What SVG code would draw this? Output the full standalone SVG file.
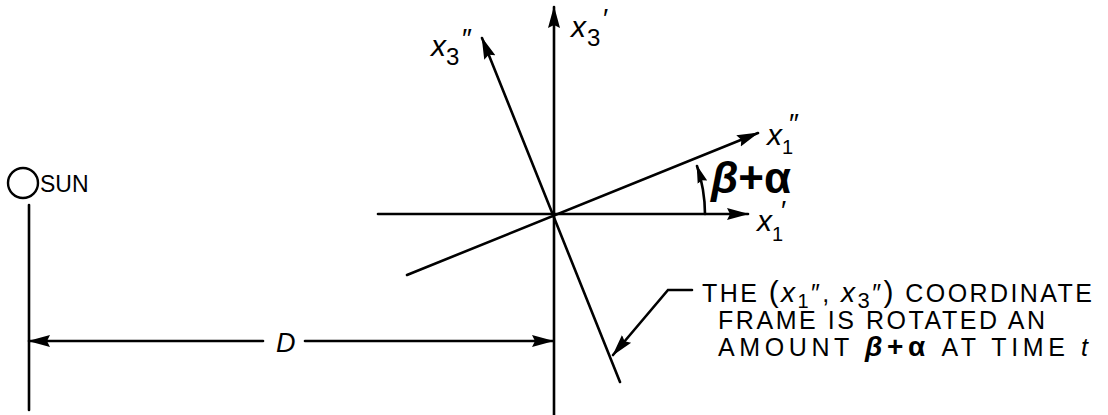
<svg xmlns="http://www.w3.org/2000/svg" width="1108" height="415" viewBox="0 0 1108 415">
<style>
.ln{stroke:#000;stroke-width:2.6;fill:none;stroke-linecap:round}
.ar{marker-end:url(#ah)}
.t{font-family:"Liberation Sans",Arial,sans-serif;fill:#000}
.v{font-family:"Liberation Sans",Arial,sans-serif;font-style:italic;fill:#000}
.note{font-family:"Liberation Sans",Arial,sans-serif;font-size:25px;fill:#000}
</style>
<defs>
<marker id="ah" markerUnits="userSpaceOnUse" markerWidth="22" markerHeight="14" viewBox="0 0 22 14" refX="21" refY="7" orient="auto">
<path d="M0,1 L22,7 L0,13 L3,7 Z" fill="#000"/>
</marker>
<marker id="ahs" markerUnits="userSpaceOnUse" markerWidth="18" markerHeight="12" viewBox="0 0 18 12" refX="17" refY="6" orient="auto">
<path d="M0,1 L18,6 L0,11 L2,6 Z" fill="#000"/>
</marker>
</defs>
<g id="sun">
<circle cx="23" cy="183" r="15" fill="none" stroke="#000" stroke-width="2.4"/>
<text class="t" x="40" y="192" font-size="23">SUN</text>
<line class="ln" x1="29" y1="205" x2="29" y2="410"/>
</g>
<g id="axes">
<line class="ln ar" x1="554" y1="415" x2="554" y2="7"/>
<line class="ln ar" x1="378" y1="214" x2="748" y2="214"/>
<line class="ln ar" x1="407" y1="275" x2="758" y2="133"/>
<line class="ln ar" x1="620" y1="382" x2="482" y2="38"/>
</g>
<g id="labels">
<text class="v" x="571" y="37" font-size="30">x</text><text class="t" x="587" y="46" font-size="24">3</text><text class="t" x="603" y="28" font-size="28">′</text>
<text class="v" x="431" y="56" font-size="30">x</text><text class="t" x="446" y="65" font-size="24">3</text><text class="t" x="462" y="48" font-size="28">″</text>
<text class="v" x="767" y="145" font-size="30">x</text><text class="t" x="782" y="154" font-size="20">1</text><text class="t" x="789" y="133" font-size="28">″</text>
<text class="v" x="757" y="231" font-size="30">x</text><text class="t" x="772" y="241" font-size="20">1</text><text class="t" x="781" y="220" font-size="28">′</text>
</g>
<g id="angle">
<path class="ln" d="M705,214 A152,152 0 0 0 697,166" marker-end="url(#ahs)"/>
<text class="t" x="711" y="193" font-size="44" font-weight="bold"><tspan font-style="italic">β</tspan>+α</text>
</g>
<g id="dimension">
<line class="ln" x1="263" y1="341" x2="29" y2="341" marker-end="url(#ah)"/>
<line class="ln" x1="305" y1="341" x2="553" y2="341" marker-end="url(#ah)"/>
<text class="v" x="276" y="352" font-size="27">D</text>
</g>
<g id="note">
<polyline class="ln" points="692,290 668,290 613,355" marker-end="url(#ah)"/>
<text class="note" x="702" y="302" textLength="390" lengthAdjust="spacing">THE <tspan font-size="30">(</tspan><tspan font-style="italic" font-size="28">x</tspan><tspan font-size="20" dy="6">1</tspan><tspan dy="-6">″, </tspan><tspan font-style="italic" font-size="28">x</tspan><tspan font-size="22" dy="6">3</tspan><tspan dy="-6">″</tspan><tspan font-size="30">)</tspan> COORDINATE</text>
<text class="note" x="718" y="329" textLength="327" lengthAdjust="spacing">FRAME IS ROTATED AN</text>
<text class="note" x="718" y="356" textLength="370" lengthAdjust="spacing">AMOUNT <tspan font-style="italic" font-weight="bold" font-size="28">β</tspan><tspan font-weight="bold" font-size="28">+α</tspan> AT TIME <tspan font-style="italic">t</tspan></text>
</g>
</svg>
